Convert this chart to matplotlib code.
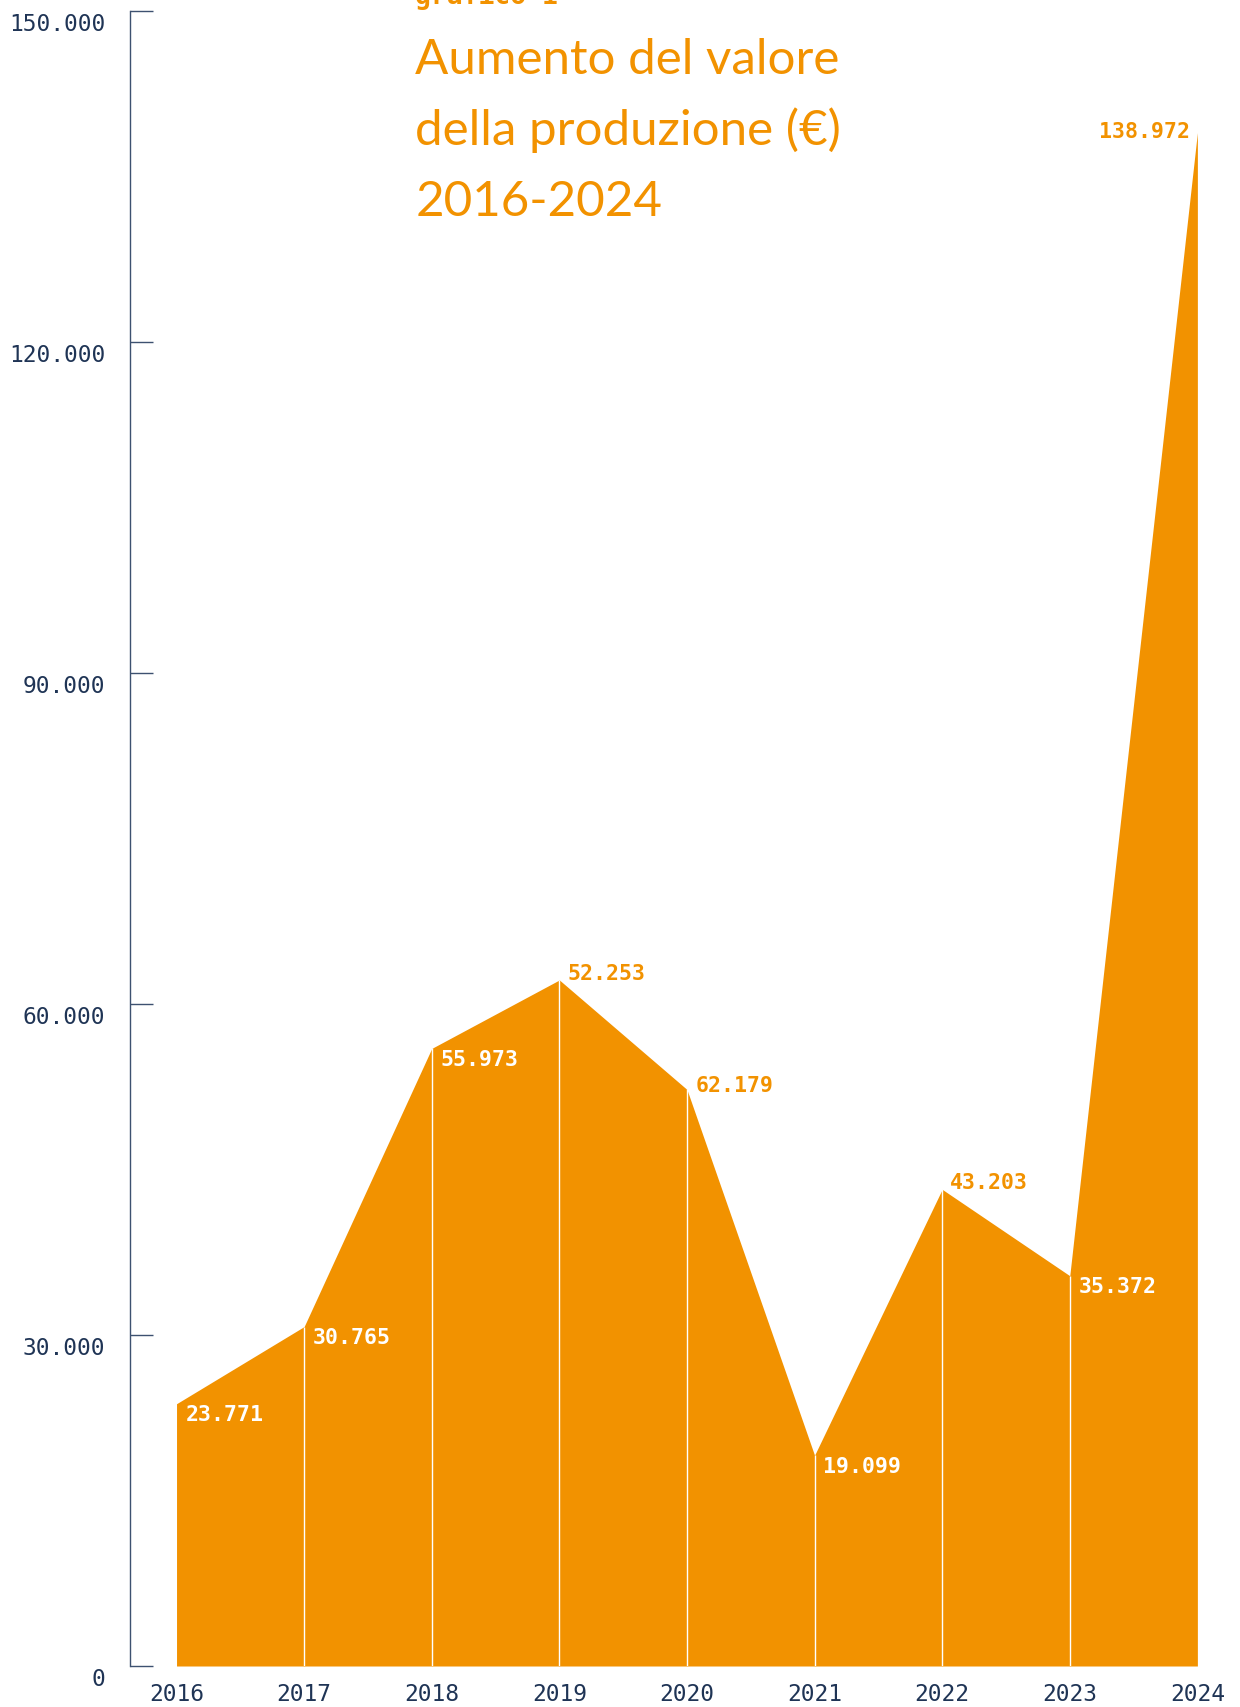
"""
Valore della produzione 2016-2024: area chart con etichette per anno.
"""
import matplotlib
matplotlib.use('Agg')
import matplotlib.pyplot as plt
import matplotlib.transforms as mtransforms
from matplotlib.ticker import FuncFormatter, FixedLocator

# Valore della produzione per anno (€)
years = [2016, 2017, 2018, 2019, 2020, 2021, 2022, 2023, 2024]
values = [23771, 30765, 55973, 62179, 52253, 19099, 43203, 35372, 138972]

# which value's label is printed at each vertex (2019 and 2020 are crossed)
label_source = [0, 1, 2, 4, 3, 5, 6, 7, 8]
label_place = ['in', 'in', 'in', 'above', 'side', 'in', 'above', 'in', 'left']

y_ticks = [0, 30000, 60000, 90000, 120000, 150000]

title_kicker = 'grafico 1'
title_lines = ['Aumento del valore', 'della produzione (€)', '2016-2024']

ORANGE = '#F29200'
NAVY = '#1F3455'
SPINE = '#3D5170'
MONO = ['DejaVu Sans Mono']


def fmt_it(v):
    """Thousands with a dot, Italian style."""
    return f"{int(v):,}".replace(',', '.')


# offsets in points, alignment and colour for each label position
placements = {
    'in':    dict(xytext=(6.3, -7.5), ha='left', color='white'),
    'above': dict(xytext=(5.8, 5.3), ha='left', color=ORANGE),
    'side':  dict(xytext=(6.5, 3.0), ha='left', color=ORANGE),
    'left':  dict(xytext=(-5.5, 1.5), ha='right', color=ORANGE),
}

fig = plt.figure(figsize=(12.4, 17.08), dpi=100)
ax = fig.add_axes([0.1046, 0.024, 0.8954, 0.969])

ax.fill_between(years, values, 0, color=ORANGE, lw=0, zorder=1)
ax.vlines(years[1:-1], 0, values[1:-1], color='white', lw=1.0, zorder=2)

for i, year in enumerate(years):
    p = placements[label_place[i]]
    ax.annotate(fmt_it(values[label_source[i]]), (year, values[i]),
                xytext=p['xytext'], textcoords='offset points',
                ha=p['ha'], va='center', color=p['color'],
                fontsize=15.5, fontweight='bold', family=MONO, zorder=3)

ax.set_xlim(2015.633, 2024.334)
ax.set_ylim(0, 150000)

ax.yaxis.set_major_locator(FixedLocator(y_ticks))
ax.yaxis.set_major_formatter(FuncFormatter(lambda v, _: fmt_it(v)))
ax.set_xticks(years)
ax.set_xticklabels([str(y) for y in years])

for side in ['top', 'right', 'bottom']:
    ax.spines[side].set_visible(False)
ax.spines['left'].set_color(SPINE)
ax.spines['left'].set_linewidth(1.0)

ax.tick_params(axis='y', direction='in', length=16.5, width=1.0,
               color=SPINE, pad=17.5, labelsize=16.5, labelcolor=NAVY)
ax.tick_params(axis='x', length=0, pad=11.5, labelsize=16.5, labelcolor=NAVY)
for lab in ax.get_yticklabels() + ax.get_xticklabels():
    lab.set_family(MONO)

# y labels sit a little below their tick
shift = mtransforms.ScaledTranslation(0, -0.10, fig.dpi_scale_trans)
for lab in ax.get_yticklabels():
    lab.set_transform(lab.get_transform() + shift)

# title block
fig.text(0.335, 1 - 4 / 1708, title_kicker, color=ORANGE, fontsize=19,
         fontweight='bold', family=MONO, ha='left', va='baseline')
for k, line in enumerate(title_lines):
    fig.text(0.335, 1 - (74 + 71 * k) / 1708, line, color=ORANGE,
             fontsize=35.5, family='Lato', fontweight='normal',
             ha='left', va='baseline')

fig.savefig('out.png', dpi=100)
